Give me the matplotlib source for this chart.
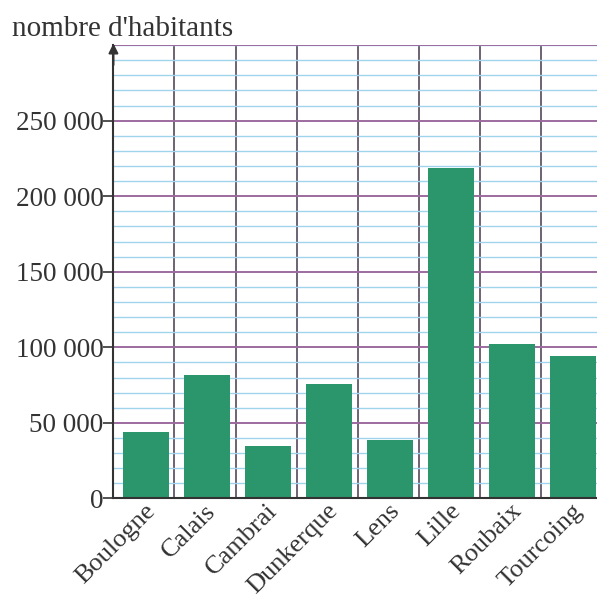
import numpy as np
import matplotlib.pyplot as plt
from matplotlib.ticker import FuncFormatter

villes = ["Boulogne", "Calais", "Cambrai", "Dunkerque", "Lens", "Lille", "Roubaix", "Tourcoing"]
habitants = [44000, 82000, 35000, 76000, 39000, 219000, 102000, 94000]

major_ticks = [0, 50000, 100000, 150000, 200000, 250000]

bar_color = "#2b966b"
blue_line = "#9fd4ec"
purple_line = "#9c6b9e"
col_line = "#6d6272"

plt.rcParams["font.family"] = ["Liberation Serif", "DejaVu Serif"]

fig = plt.figure(figsize=(5.97, 6.02), dpi=100)
ax = fig.add_axes([0.19, 0.172, 0.82, 0.753])

x = np.arange(len(villes))
ax.bar(x + 0.03, habitants, width=0.75, color=bar_color, zorder=3)

ax.set_xlim(-0.5, 7.52)
ax.set_ylim(0, 300000)

# notebook-like grid
ax.set_yticks(major_ticks)
ax.set_yticks(np.arange(0, 300001, 10000), minor=True)
ax.set_xticks(x)
ax.set_xticks(x[1:] - 0.5, minor=True)
ax.grid(which="minor", axis="y", color=blue_line, linewidth=1.0, zorder=0)
for v in major_ticks[1:] + [300000]:
    ax.axhline(v, color=purple_line, linewidth=1.4, zorder=1)
ax.grid(which="minor", axis="x", color=col_line, linewidth=1.4, zorder=2)
ax.set_axisbelow(True)

ax.yaxis.set_major_formatter(FuncFormatter(lambda v, p: f"{int(v):,}".replace(",", " ")))
ax.tick_params(axis="y", which="major", length=7, width=1.2, labelsize=19.5, colors="#333333", pad=0)
ax.tick_params(axis="y", which="minor", length=0)
ax.tick_params(axis="x", which="both", length=0, pad=1)
ax.set_xticklabels(villes, rotation=45, ha="right", rotation_mode="anchor", fontsize=19, color="#333333")

for s in ["top", "right"]:
    ax.spines[s].set_visible(False)
for s in ["left", "bottom"]:
    ax.spines[s].set_color("#333333")
    ax.spines[s].set_linewidth(1.5)
    ax.spines[s].set_zorder(4)

# arrow at top of y axis
ax.annotate("", xy=(0, 1.01), xytext=(0, 0.95), xycoords="axes fraction",
            arrowprops=dict(arrowstyle="-|>", color="#333333", lw=1.5, mutation_scale=14),
            annotation_clip=False)

fig.text(0.02, 0.94, "nombre d'habitants", fontsize=21, color="#333333", ha="left", va="baseline")

fig.savefig("out.png", dpi=100)
